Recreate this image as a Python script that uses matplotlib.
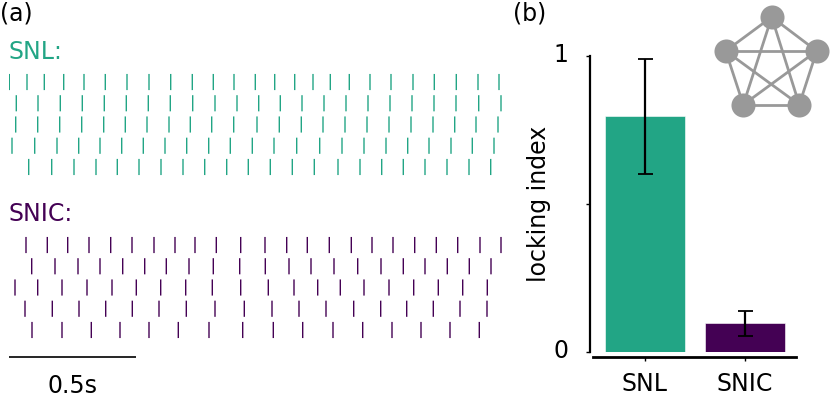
#!/usr/bin/env python3
import itertools
import numpy as np
import matplotlib
matplotlib.use("Agg")
import matplotlib.pyplot as plt

W, H = 830, 397
GREEN = '#22a585'
PURPLE = '#440154'
GREY = '#999999'
FS = 17
PX_PER_S = 254.0

# ---------- spike trains (raster units, 254 per second) ----------
snl_rows = [
    [9.3, 27, 44.3, 63.7, 84, 105.3, 127, 149, 170.7, 192.3, 213.3, 234, 255.3,
     274.7, 294.7, 313, 330.3, 349.3, 370, 391, 413, 434.3, 456.3, 478, 499],
    [16.3, 38, 60.3, 82.3, 104.3, 126.3, 148.3, 170.3, 192.7, 215, 237, 258.7,
     280.3, 302, 324, 346, 368, 390, 412, 434, 456, 478.7, 501],
    [15.7, 37.7, 59.7, 81.7, 103.7, 125.3, 147, 169, 190.3, 211.7, 233.7, 257,
     279.3, 301.3, 323, 345, 367, 389, 411, 433, 454.7, 476, 498],
    [12, 34.7, 57, 78.7, 100, 121.7, 143.3, 165, 186.7, 208.7, 230.3, 252.3,
     274, 296.7, 319.7, 342, 364, 386, 407.7, 429, 451, 472.3, 494],
    [28.7, 51.7, 74, 96, 117.3, 139, 161, 183, 204.7, 226.7, 248.3,
     270.3, 292.3, 314.3, 338, 360, 381.7, 403.3, 425, 447, 469, 490.7],
]
snic_rows = [
    [26, 47.3, 67.7, 89, 110.7, 132, 154, 175, 195, 216.3, 240.7,
     265, 286.7, 307.3, 329.3, 351.3, 372, 393, 414.7, 436.3, 457.7, 480, 501],
    [31.7, 55, 78, 100, 122.7, 144.7, 166.3, 189, 213.3, 239.7,
     265.3, 289, 311, 334, 357.7, 381, 403.3, 425, 447.3, 469.3, 491],
    [15, 37.7, 62, 87, 112, 136.3, 160.7, 185.7, 212.3, 240.7,
     268.3, 294, 317.7, 340.3, 364, 389, 413.7, 438.3, 462.7, 487.3],
    [25, 52.3, 79, 105.7, 132.3, 159, 186.3, 215, 244.3,
     272, 299, 326, 353.7, 380.7, 406.7, 433.3, 460, 487],
    [32, 62, 91.3, 120, 149, 178.3, 209, 242.7,
     273.3, 302.7, 333, 362.7, 392, 421, 450, 479.3],
]

# ---------- locking index ----------
labels = ['SNL', 'SNIC']
lock_mean = [0.795, 0.097]
lock_low = [0.601, 0.054]
lock_high = [0.987, 0.139]

# ---------- inset network nodes ----------
node_x = [771.7, 725.7, 816.7, 743.3, 799.3]
node_y = [17, 51, 51, 104.7, 104.7]


def px_axes(fig, x0, y0, x1, y1):
    # axes from pixel box, y measured from the top
    return fig.add_axes([x0 / W, 1 - y1 / H, (x1 - x0) / W, (y1 - y0) / H])


def raster(fig, rows, top, bottom, color):
    ax = px_axes(fig, 9, top, 512, bottom)
    coll = ax.eventplot([np.array(r) / PX_PER_S for r in rows], colors=color,
                        lineoffsets=1, linelengths=0.76, linewidths=1.0)
    for c in coll:
        c.set_snap(False)
    ax.set_xlim(9 / PX_PER_S, 512 / PX_PER_S)
    ax.set_ylim(4.5, -0.5)
    ax.axis('off')
    return ax


def main():
    plt.rcParams['font.family'] = ['DejaVu Sans']
    fig = plt.figure(figsize=(W / 100, H / 100), dpi=100)

    raster(fig, snl_rows, 71.4, 177.6, GREEN)
    raster(fig, snic_rows, 234.4, 340.6, PURPLE)

    # bars
    ax = px_axes(fig, 593, 55.5, 796, 352)
    xpos = np.arange(len(labels))
    ax.bar(xpos, lock_mean, width=0.8, color=[GREEN, PURPLE], edgecolor='white', linewidth=0.4)
    yerr = [np.array(lock_mean) - np.array(lock_low), np.array(lock_high) - np.array(lock_mean)]
    ax.errorbar(xpos, lock_mean, yerr=yerr, fmt='none', ecolor='black',
                elinewidth=1.6, capsize=5.4, capthick=1.3)
    ax.set_xlim(-0.517, 1.513)
    ax.set_ylim(0, 1)
    ax.set_xticks(xpos, labels)
    ax.set_yticks([0, 0.5, 1], ['', '', ''])
    ax.tick_params(axis='y', length=3, width=1.0)
    ax.tick_params(axis='x', length=3, width=1.0, pad=8, labelsize=FS)
    for side in ('top', 'right'):
        ax.spines[side].set_visible(False)
    ax.spines['left'].set_position(('outward', 2.5))
    ax.spines['bottom'].set_position(('outward', 3.4))
    ax.spines['left'].set_linewidth(1.6)
    ax.spines['bottom'].set_linewidth(2.0)
    ax.set_ylabel('locking index', fontsize=FS)
    ax.yaxis.set_label_coords((551 - 593) / 203, 0.5)

    # overlay in pixel coordinates: scale bar and network inset
    ov = fig.add_axes([0, 0, 1, 1], zorder=5)
    ov.set_xlim(0, W)
    ov.set_ylim(H, 0)
    ov.axis('off')
    ov.plot([9, 9 + 0.5 * PX_PER_S], [356.7, 356.7], color='black', lw=1.2, solid_capstyle='butt')
    for i, j in itertools.combinations(range(len(node_x)), 2):
        ov.plot([node_x[i], node_x[j]], [node_y[i], node_y[j]], color=GREY, lw=2.0, zorder=2)
    ov.scatter(node_x, node_y, s=300, color=GREY, linewidths=0, zorder=3)

    ov.text(0, 21, '(a)', fontsize=FS, va='baseline')
    ov.text(513, 21, '(b)', fontsize=FS, va='baseline')
    ov.text(8.5, 59, 'SNL:', fontsize=FS, color=GREEN, va='baseline')
    ov.text(8, 221, 'SNIC:', fontsize=FS, color=PURPLE, va='baseline')
    ov.text(72.5, 392.7, '0.5s', fontsize=FS, ha='center', va='baseline')
    # y numbers sit a little above their ticks in the original
    ov.text(568, 62.3, '1', fontsize=FS, ha='right', va='baseline')
    ov.text(568, 358, '0', fontsize=FS, ha='right', va='baseline')

    fig.savefig('out.png', dpi=100)


if __name__ == "__main__":
    main()
